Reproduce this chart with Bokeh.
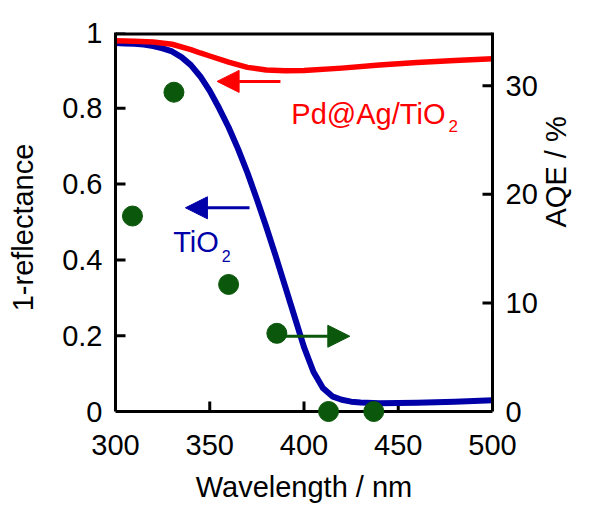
import math
from bokeh.plotting import figure
from bokeh.models import (Range1d, LinearAxis, FixedTicker, NumeralTickFormatter,
                          Arrow, NormalHead, Label, ColumnDataSource)
from bokeh.embed import file_html
from bokeh.resources import INLINE

# ---------------- data ----------------
wl_tio2 = [300, 305, 310, 315, 320, 325, 330, 335, 340, 345, 350, 355, 360, 365, 370,
           375, 380, 385, 390, 395, 400, 405, 410, 415, 420, 425, 430, 440, 460, 480, 500]
refl_tio2 = [0.972, 0.971, 0.970, 0.968, 0.964, 0.958, 0.950, 0.935, 0.914, 0.884,
             0.846, 0.800, 0.750, 0.693, 0.630, 0.560, 0.487, 0.410, 0.330, 0.250,
             0.170, 0.105, 0.062, 0.040, 0.031, 0.026, 0.024, 0.022, 0.023, 0.026, 0.030]

wl_pdag = [300, 310, 320, 330, 340, 345, 350, 360, 370, 380, 390, 400, 420, 440, 460, 480, 500]
refl_pdag = [0.978, 0.977, 0.975, 0.969, 0.955, 0.946, 0.938, 0.922, 0.908, 0.901,
             0.899, 0.900, 0.906, 0.914, 0.921, 0.926, 0.931]

wl_aqe = [309, 331, 360, 385.6, 413, 437]
aqe = [18.0, 29.4, 11.7, 7.2, 0.0, 0.0]

x_ticks = [300, 350, 400, 450, 500]
y_ticks = [0, 0.2, 0.4, 0.6, 0.8, 1.0]
aqe_ticks = [0, 10, 20, 30]

X0, X1 = 300, 500
Y1 = 1.0
AQE1 = 34.9

RED = "#FF0000"
BLUE = "#0000A8"
GREEN = "#0B570B"
FONT = "Liberation Sans"

# layout (pixels)
FRAME_W = 377
AXIS_H = 379          # height of the 0..1 span
PAD = 11              # room below the x-axis line for the full markers
TICK = 10

y0 = -PAD / AXIS_H * Y1
a0 = -PAD / AXIS_H * AQE1

p = figure(width=590, height=505, x_range=Range1d(X0, X1), y_range=Range1d(y0, Y1),
           output_backend="svg", toolbar_location=None,
           min_border_left=115, min_border_right=98, min_border_top=32,
           min_border_bottom=505 - 32 - AXIS_H - PAD)
p.extra_y_ranges = {"aqe": Range1d(a0, AQE1)}
p.xgrid.visible = False
p.ygrid.visible = False
p.outline_line_color = None
p.background_fill_color = "white"
p.border_fill_color = "white"

bottom = p.below[0]
left = p.left[0]

right = LinearAxis(y_range_name="aqe", ticker=FixedTicker(ticks=aqe_ticks))
p.add_layout(right, "right")

bottom.ticker = FixedTicker(ticks=x_ticks)
left.ticker = FixedTicker(ticks=y_ticks)
left.formatter = NumeralTickFormatter(format="0.[0]")

for ax in (bottom, left, right):
    ax.axis_line_width = 3
    ax.axis_line_color = "black"
    ax.major_tick_line_color = None
    ax.minor_tick_line_color = None
    ax.major_tick_in = 0
    ax.major_tick_out = 0
    ax.major_label_text_font = FONT
    ax.major_label_text_font_size = "29px"
    ax.major_label_text_color = "black"
    ax.axis_label_text_font = FONT
    ax.axis_label_text_font_size = "29px"
    ax.axis_label_text_font_style = "normal"
    ax.axis_label_text_color = "black"

bottom.axis_line_color = None
bottom.axis_label = "Wavelength / nm"
bottom.major_label_standoff = 12
bottom.axis_label_standoff = 13

left.bounds = (0, Y1)
left.axis_label = "1-reflectance"
left.major_label_standoff = 13
left.axis_label_standoff = 20

right.bounds = (0, AQE1)
right.major_label_standoff = 13
right.axis_label = "AQE / %"
right.axis_label_standoff = 15
try:
    right.axis_label_orientation = math.pi / 2
except Exception:
    pass

# x-axis line at y = 0, top border and inward tick marks
p.segment(x0=[X0], y0=[0], x1=[X1], y1=[0], line_color="black", line_width=3)
p.segment(x0=[X0], y0=[Y1], x1=[X1], y1=[Y1], line_color="black", line_width=6)
dx = TICK / FRAME_W * (X1 - X0)
dy = TICK / AXIS_H * Y1
p.segment(x0=x_ticks, y0=[0] * len(x_ticks), x1=x_ticks, y1=[dy] * len(x_ticks),
          line_color="black", line_width=3)
p.segment(x0=[X0] * len(y_ticks), y0=y_ticks, x1=[X0 + dx] * len(y_ticks), y1=y_ticks,
          line_color="black", line_width=3)
p.segment(x0=[X1] * len(aqe_ticks), y0=aqe_ticks, x1=[X1 - dx] * len(aqe_ticks),
          y1=aqe_ticks, line_color="black", line_width=3, y_range_name="aqe")

# curves
p.line(wl_tio2, refl_tio2, line_color=BLUE, line_width=6, line_join="round", line_cap="round")
p.line(wl_pdag, refl_pdag, line_color=RED, line_width=5.5, line_join="round", line_cap="round")

# AQE points
src = ColumnDataSource(dict(x=wl_aqe, y=aqe))
p.scatter("x", "y", source=src, size=20, fill_color=GREEN, line_color=GREEN,
          y_range_name="aqe")

# arrows
p.add_layout(Arrow(end=NormalHead(size=22, fill_color=RED, line_color=RED),
                   x_start=387.5, y_start=0.871, x_end=353.9, y_end=0.871,
                   line_color=RED, line_width=3))
p.add_layout(Arrow(end=NormalHead(size=22, fill_color=BLUE, line_color=BLUE),
                   x_start=371.1, y_start=0.5375, x_end=337.1, y_end=0.5375,
                   line_color=BLUE, line_width=3))
p.add_layout(Arrow(end=NormalHead(size=22, fill_color=GREEN, line_color=GREEN),
                   x_start=385.6, y_start=6.93, x_end=424.3, y_end=6.93,
                   line_color=GREEN, line_width=3, y_range_name="aqe"))

# labels
def lab(x, y, text, color, size):
    p.add_layout(Label(x=x, y=y, text=text, text_color=color, text_font=FONT,
                       text_font_size=size, text_align="left",
                       text_baseline="alphabetic"))

lab(393.3, 0.7855, "Pd@Ag/TiO", RED, "29px")
lab(476.7, 0.7546, "2", RED, "17px")
lab(330.6, 0.4467, "TiO", BLUE, "29px")
lab(356.3, 0.4116, "2", BLUE, "16px")

open("out.html", "w").write(file_html(p, INLINE))
